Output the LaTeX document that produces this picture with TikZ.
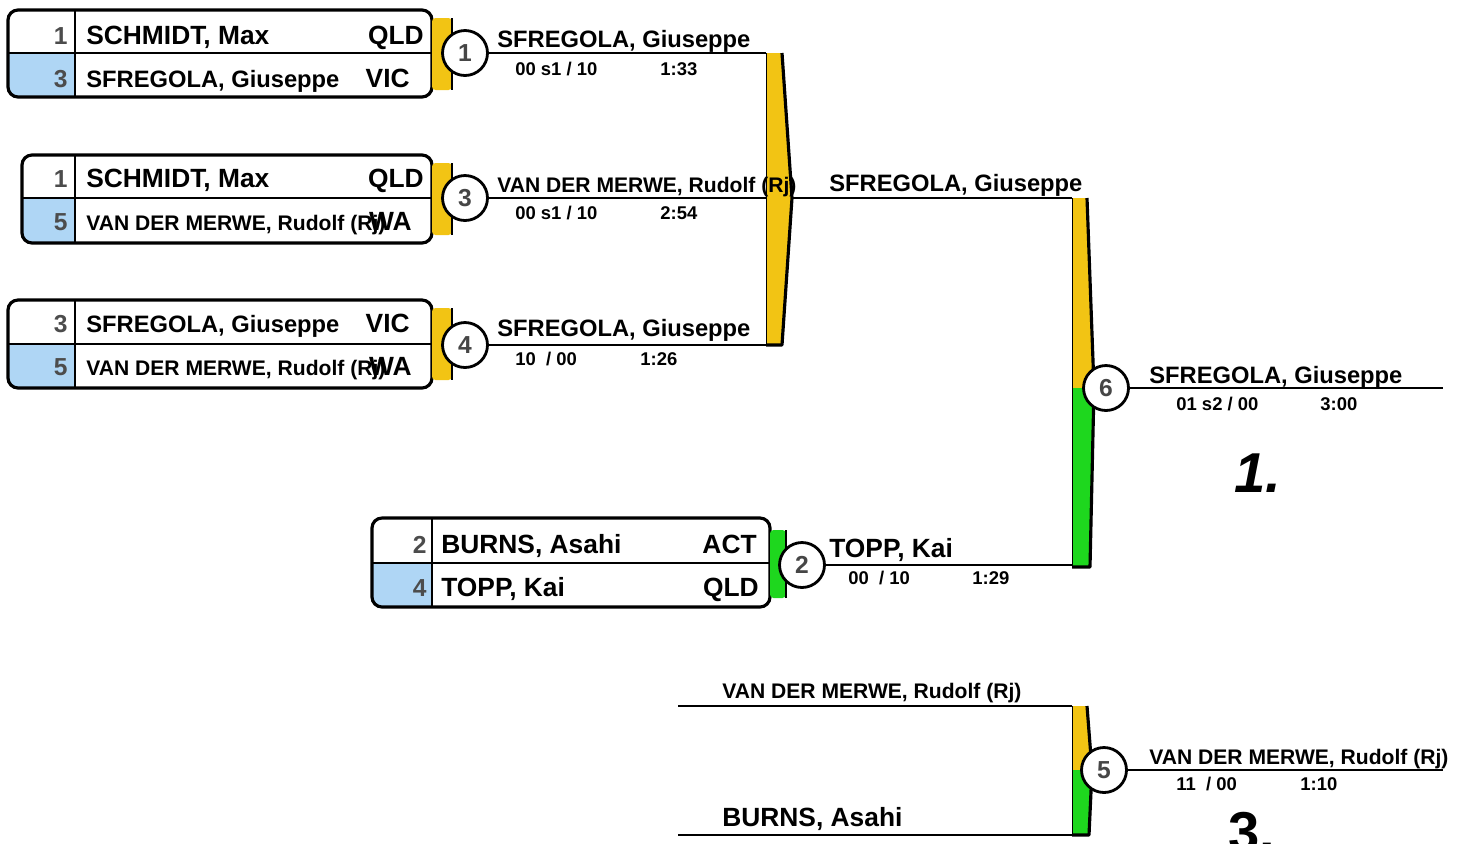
\documentclass[tikz,border=0pt]{standalone}
\usepackage{fontspec}
\setmainfont{Liberation Sans}
\definecolor{winyel}{RGB}{242,196,20}
\definecolor{wingrn}{RGB}{30,215,30}
\definecolor{seedblue}{RGB}{175,214,245}

\begin{document}
\begin{tikzpicture}[x=0.02cm, y=-0.02cm,
  nm/.style={anchor=base west, inner sep=0, font=\bfseries\fontsize{13.5}{16}\selectfont},
  nmb/.style={nm, font=\bfseries\fontsize{15}{18}\selectfont},
  nms/.style={nm, font=\bfseries\fontsize{12}{14}\selectfont},
  res/.style={nm, font=\bfseries\fontsize{10.5}{12}\selectfont},
  club/.style={nmb, anchor=base east},
  seed/.style={anchor=base east, inner sep=0, text=gray!60!black, font=\bfseries\fontsize{14}{16}\selectfont},
  bout/.style={circle, draw, fill=white, line width=1.6pt, minimum size=0.9cm, inner sep=0, text=gray!55!black, font=\bfseries\fontsize{14}{16}\selectfont},
  pool/.style={draw, line width=1.8pt, rounded corners=0.2cm},
  ln/.style={line width=1.5pt},
  bar/.style={line width=1.8pt, line join=round},
  place/.style={inner sep=0, font=\bfseries\fontsize{32}{36}\selectfont}
]
\clip (0,0) rectangle (1463,843);

\begin{scope}
  \clip[rounded corners=0.2cm] (8,10) rectangle (432,97);
  \fill[seedblue] (8,53) rectangle (75,97);
\end{scope}
\draw[thick] (8,53) -- (432,53) (75,10) -- (75,97);
\draw[pool] (8,10) rectangle (432,97);
\node[seed] (s1a) at (68,44) {1};
\node[seed] (s1b) at (68,87) {3};
\node[nmb] (n1a) at (86,44) {SCHMIDT, Max};
\node[nm] (n1b) at (86,87) {SFREGOLA, Giuseppe};
\node[club] (c1a) at (424,44) {QLD};
\node[club] (c1b) at (410,87) {VIC};
\fill[winyel, rounded corners=2] (432,18) rectangle (452,90);
\draw[thick] (452,18) -- (452,90);

\begin{scope}
  \clip[rounded corners=0.2cm] (22,155) rectangle (432,243);
  \fill[seedblue] (22,198) rectangle (75,243);
\end{scope}
\draw[thick] (22,198) -- (432,198) (75,155) -- (75,243);
\draw[pool] (22,155) rectangle (432,243);
\node[seed] (s2a) at (68,187) {1};
\node[seed] (s2b) at (68,230) {5};
\node[nmb] (n2a) at (86,187) {SCHMIDT, Max};
\node[nms] (n2b) at (86,230) {VAN DER MERWE, Rudolf (Rj)};
\node[club] (c2a) at (424,187) {QLD};
\node[club] (c2b) at (412,230) {WA};
\fill[winyel, rounded corners=2] (432,163) rectangle (452,235);
\draw[thick] (452,163) -- (452,235);

\begin{scope}
  \clip[rounded corners=0.2cm] (8,300) rectangle (432,388);
  \fill[seedblue] (8,344) rectangle (75,388);
\end{scope}
\draw[thick] (8,344) -- (432,344) (75,300) -- (75,388);
\draw[pool] (8,300) rectangle (432,388);
\node[seed] (s3a) at (68,332) {3};
\node[seed] (s3b) at (68,375) {5};
\node[nm] (n3a) at (86,332) {SFREGOLA, Giuseppe};
\node[nms] (n3b) at (86,375) {VAN DER MERWE, Rudolf (Rj)};
\node[club] (c3a) at (410,332) {VIC};
\node[club] (c3b) at (412,375) {WA};
\fill[winyel, rounded corners=2] (432,308) rectangle (452,380);
\draw[thick] (452,308) -- (452,380);

\begin{scope}
  \clip[rounded corners=0.2cm] (372,518) rectangle (770,607);
  \fill[seedblue] (372,563) rectangle (432,607);
\end{scope}
\draw[thick] (372,563) -- (770,563) (432,518) -- (432,607);
\draw[pool] (372,518) rectangle (770,607);
\node[seed] (s4a) at (427,553) {2};
\node[seed] (s4b) at (427,596) {4};
\node[nmb] (n4a) at (441,553) {BURNS, Asahi};
\node[nmb] (n4b) at (441,596) {TOPP, Kai};
\node[club] (c4a) at (757,553) {ACT};
\node[club] (c4b) at (759,596) {QLD};
\fill[wingrn, rounded corners=2] (770,530) rectangle (786,598);
\draw[thick] (786,530) -- (786,598);

\coordinate (b1a) at (766,53);
\coordinate (b1b) at (766,198);
\coordinate (b1c) at (766,345);
\coordinate (b1o) at (792,198);
\coordinate (b2a) at (1072,198);
\coordinate (b2b) at (1072,565);
\coordinate (b3a) at (1072,706);
\coordinate (b3b) at (1072,835);
\coordinate (l3a) at (678,706);
\coordinate (l3b) at (678,835);
\coordinate (e6) at (1443,388);
\coordinate (e5) at (1443,770);

\fill[winyel] (766,53) -- (782,53) -- (792,198) -- (782,345) -- (766,345) -- cycle;
\draw[thin] (766,53) -- (766,345);
\draw[bar] (782,53) -- (792,198) -- (782,345) -- (766,345);

\fill[winyel] (1072,198) -- (1087,198) -- (1094,388) -- (1072,388) -- cycle;
\fill[wingrn] (1072,388) -- (1094,388) -- (1090,567) -- (1072,567) -- cycle;
\draw[thin] (1072,198) -- (1072,567);
\draw[bar] (1087,198) -- (1094,388) -- (1090,567) -- (1072,567);

\fill[winyel] (1072,706) -- (1087,706) -- (1092,770) -- (1072,770) -- cycle;
\fill[wingrn] (1072,770) -- (1092,770) -- (1089,835) -- (1072,835) -- cycle;
\draw[thin] (1072,706) -- (1072,835);
\draw[bar] (1087,706) -- (1092,770) -- (1089,835) -- (1072,835);

\node[bout] (m1) at (465,53) {1};
\node[bout] (m3) at (465,198) {3};
\node[bout] (m4) at (465,345) {4};
\node[bout] (m2) at (802,565) {2};
\node[bout] (m6) at (1106,388) {6};
\node[bout] (m5) at (1104,770) {5};

\draw[ln] (m1) -- (b1a);
\draw[ln] (m3) -- (b1b);
\draw[ln] (m4) -- (b1c);
\draw[ln] (b1o) -- (b2a);
\draw[ln] (m2) -- (b2b);
\draw[ln] (m6) -- (e6);
\draw[ln] (l3a) -- (b3a);
\draw[ln] (l3b) -- (b3b);
\draw[ln] (m5) -- (e5);

\node[nm] (w1) at (497,47) {SFREGOLA, Giuseppe};
\node[res] (r1a) at (515,75) {00 s1 / 10};
\node[res] (r1b) at (660,75) {1:33};
\node[nms] (w3) at (497,192) {VAN DER MERWE, Rudolf (Rj)};
\node[res] (r3a) at (515,219) {00 s1 / 10};
\node[res] (r3b) at (660,219) {2:54};
\node[nm] (w4) at (497,336) {SFREGOLA, Giuseppe};
\node[res] (r4a) at (515,365) {10~~/ 00};
\node[res] (r4b) at (640,365) {1:26};
\node[nm] (w7) at (829,191) {SFREGOLA, Giuseppe};
\node[nmb] (w2) at (829,557) {TOPP, Kai};
\node[res] (r2a) at (848,584) {00~~/ 10};
\node[res] (r2b) at (972,584) {1:29};
\node[nm] (w6) at (1149,383) {SFREGOLA, Giuseppe};
\node[res] (r6a) at (1176,410) {01 s2 / 00};
\node[res] (r6b) at (1320,410) {3:00};
\node[place, font=\bfseries\itshape\fontsize{32}{36}\selectfont] (p1) at (1258,473) {1.};
\node[nms] (q1) at (722,698) {VAN DER MERWE, Rudolf (Rj)};
\node[nmb] (q2) at (722,826) {BURNS, Asahi};
\node[nms] (w5) at (1149,764) {VAN DER MERWE, Rudolf (Rj)};
\node[res] (r5a) at (1176,790) {11~~/ 00};
\node[res] (r5b) at (1300,790) {1:10};
\node[place] (p3) at (1252,832) {3.};

\end{tikzpicture}
\end{document}
